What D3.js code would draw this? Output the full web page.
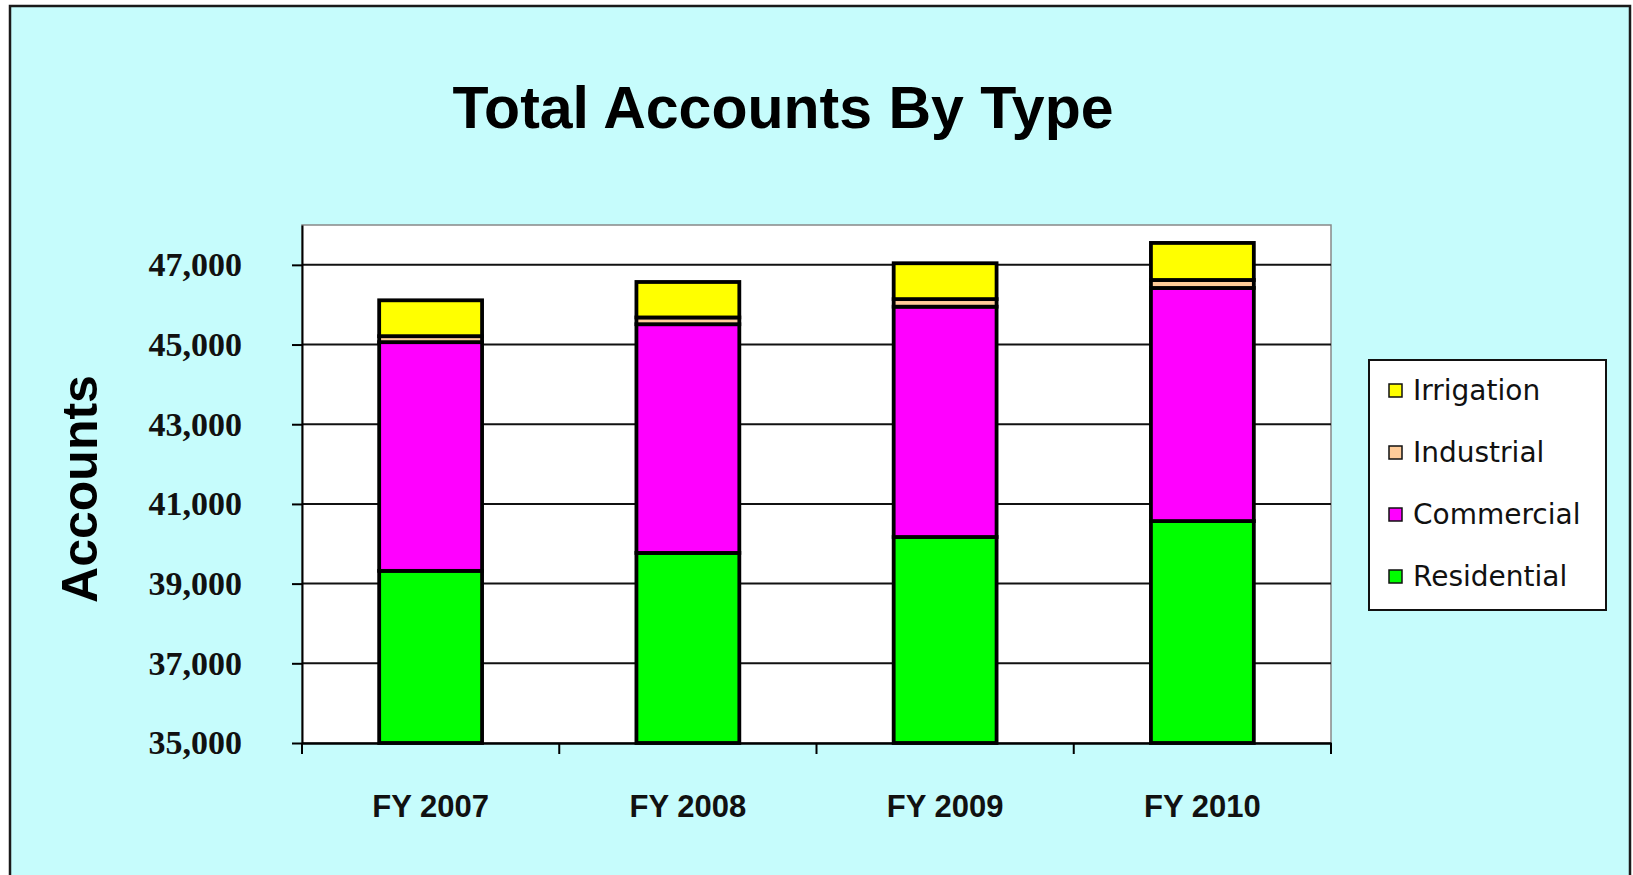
<!DOCTYPE html>
<html>
<head>
<meta charset="utf-8">
<script src="https://cdn.jsdelivr.net/npm/d3@7"></script>
<style>
  html, body { margin: 0; padding: 0; background: #ffffff; }
  svg { display: block; }
</style>
</head>
<body>
<svg id="chart" width="1633" height="875"></svg>
<script>
// ---- Data ----
const categories = ["FY 2007", "FY 2008", "FY 2009", "FY 2010"];
const seriesNames = ["Residential", "Commercial", "Industrial", "Irrigation"];
const residential = [39320, 39770, 40170, 40570];
const commercial  = [5740, 5740, 5780, 5850];
const industrial  = [150, 170, 190, 200];
const irrigation  = [900, 890, 900, 930];
const yTickValues = [35000, 37000, 39000, 41000, 43000, 45000, 47000];
const legendOrder = ["Irrigation", "Industrial", "Commercial", "Residential"];
const titleText = "Total Accounts By Type";
const yTitleText = "Accounts";

// ---- Styling ----
const colors = {
  Residential: "#00ff00",
  Commercial: "#ff00ff",
  Industrial: "#ffcc99",
  Irrigation: "#ffff00"
};
const bgColor = "#c6fcfc";

const svg = d3.select("#chart");

// outer chart area
svg.append("rect")
  .attr("x", 10).attr("y", 6)
  .attr("width", 1620).attr("height", 880)
  .attr("fill", bgColor)
  .attr("stroke", "#1a1a1a")
  .attr("stroke-width", 2.5);

// plot area
const plot = { left: 302, right: 1331, top: 225, bottom: 743 };

const x = d3.scaleBand()
  .domain(categories)
  .range([plot.left, plot.right])
  .paddingInner(0.6)
  .paddingOuter(0.3);

const y = d3.scaleLinear()
  .domain([35000, 48000])
  .range([plot.bottom, plot.top])
  .clamp(true);

svg.append("rect")
  .attr("x", plot.left).attr("y", plot.top)
  .attr("width", plot.right - plot.left)
  .attr("height", plot.bottom - plot.top)
  .attr("fill", "#ffffff")
  .attr("stroke", "#888888")
  .attr("stroke-width", 1.5);

// gridlines
svg.append("g")
  .selectAll("line")
  .data(yTickValues.filter(v => v > 35000))
  .join("line")
  .attr("x1", plot.left).attr("x2", plot.right)
  .attr("y1", d => y(d)).attr("y2", d => y(d))
  .attr("stroke", "#111111")
  .attr("stroke-width", 2);

// stacked data
const table = categories.map((c, i) => ({
  category: c,
  Residential: residential[i],
  Commercial: commercial[i],
  Industrial: industrial[i],
  Irrigation: irrigation[i]
}));
const stacked = d3.stack().keys(seriesNames)(table);

svg.append("g")
  .selectAll("g")
  .data(stacked)
  .join("g")
  .attr("fill", d => colors[d.key])
  .selectAll("rect")
  .data(d => d)
  .join("rect")
  .attr("x", d => x(d.data.category))
  .attr("width", x.bandwidth())
  .attr("y", d => y(d[1]))
  .attr("height", d => y(d[0]) - y(d[1]))
  .attr("stroke", "#000000")
  .attr("stroke-width", 3.8);

// y axis
const yAxis = svg.append("g")
  .attr("transform", `translate(${plot.left},0)`)
  .call(d3.axisLeft(y).tickValues(yTickValues).tickFormat(d3.format(","))
    .tickSizeInner(10).tickSizeOuter(0).tickPadding(50));
yAxis.select(".domain").attr("stroke", "#000").attr("stroke-width", 2);
yAxis.selectAll(".tick line").attr("stroke", "#000").attr("stroke-width", 2);
yAxis.selectAll(".tick text")
  .attr("font-family", "'Liberation Serif', 'Times New Roman', serif")
  .attr("font-weight", "bold")
  .attr("font-size", 34)
  .attr("fill", "#111");

// x axis
const xAxis = svg.append("g")
  .attr("transform", `translate(0,${plot.bottom})`)
  .call(d3.axisBottom(x).tickSize(0).tickPadding(52));
xAxis.select(".domain").attr("stroke", "#000").attr("stroke-width", 2.5);
xAxis.selectAll(".tick text")
  .attr("font-family", "'Liberation Sans', Arial, sans-serif")
  .attr("font-weight", "bold")
  .attr("font-size", 31)
  .attr("fill", "#111");

// category separator ticks
const step = x.step();
const boundaries = d3.range(categories.length + 1).map(i => plot.left + i * step);
svg.append("g")
  .selectAll("line")
  .data(boundaries)
  .join("line")
  .attr("x1", d => d).attr("x2", d => d)
  .attr("y1", plot.bottom).attr("y2", plot.bottom + 11)
  .attr("stroke", "#000")
  .attr("stroke-width", 2);

// title
svg.append("text")
  .attr("x", 783).attr("y", 128)
  .attr("text-anchor", "middle")
  .attr("font-family", "'Liberation Sans', Arial, sans-serif")
  .attr("font-weight", "bold")
  .attr("font-size", 59)
  .attr("fill", "#000")
  .text(titleText);

// y axis title
svg.append("text")
  .attr("transform", "translate(97,489) rotate(-90)")
  .attr("text-anchor", "middle")
  .attr("font-family", "'Liberation Sans', Arial, sans-serif")
  .attr("font-weight", "bold")
  .attr("font-size", 50)
  .attr("fill", "#000")
  .text(yTitleText);

// legend
const legend = svg.append("g");
legend.append("rect")
  .attr("x", 1369).attr("y", 360)
  .attr("width", 237).attr("height", 250)
  .attr("fill", "#ffffff")
  .attr("stroke", "#111")
  .attr("stroke-width", 2);

const legendY = d3.scalePoint().domain(legendOrder).range([400, 586]);
const items = legend.selectAll("g.item")
  .data(legendOrder)
  .join("g")
  .attr("class", "item");
items.append("rect")
  .attr("x", 1389)
  .attr("y", d => legendY(d) - 16)
  .attr("width", 13).attr("height", 13)
  .attr("fill", d => colors[d])
  .attr("stroke", "#111")
  .attr("stroke-width", 1.5);
items.append("text")
  .attr("x", 1413)
  .attr("y", d => legendY(d))
  .attr("font-family", "'DejaVu Sans', Verdana, sans-serif")
  .attr("font-size", 28)
  .attr("fill", "#111")
  .text(d => d);
</script>
</body>
</html>
